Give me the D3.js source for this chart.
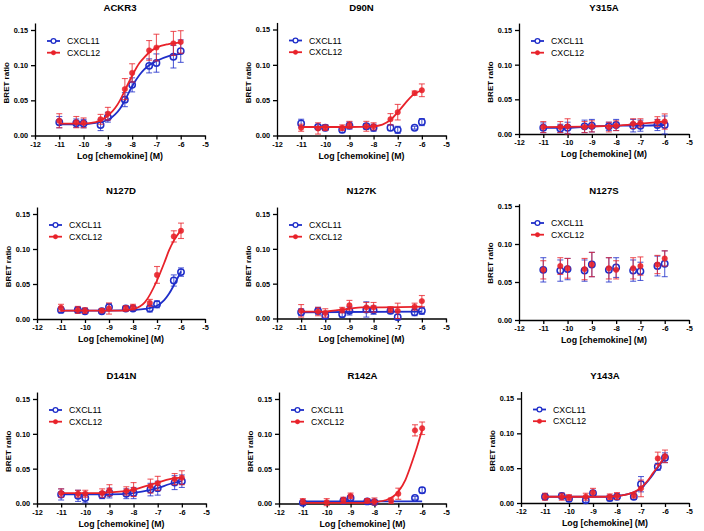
<!DOCTYPE html>
<html>
<head>
<meta charset="utf-8">
<script src="https://cdn.jsdelivr.net/npm/d3@7"></script>
<style>
  body { margin: 0; background: #fff; }
  svg { display: block; font-family: "Liberation Sans", Arial, sans-serif; }
  .tick text { font-size: 7.3px; font-weight: bold; fill: #000; }
  .domain, .tick line { stroke: #000; stroke-width: 1.3px; }
</style>
</head>
<body>
<div id="chart"></div>
<script>
// Concentrations, log10 [chemokine] (M)
const conc = [-11, -10.3, -10, -9.3, -9, -8.3, -8, -7.3, -7, -6.3, -6];
const xTicks = [-12, -11, -10, -9, -8, -7, -6, -5];
const yTicks = [0, 0.05, 0.10, 0.15];
const seriesNames = ['CXCL11', 'CXCL12'];

// ACKR3
const ackr3_c11 = [0.019, 0.0175, 0.017, 0.015, 0.026, 0.051, 0.072, 0.099, 0.103, 0.112, 0.120];
const ackr3_e11 = [0.008, 0.006, 0.006, 0.008, 0.007, 0.010, 0.010, 0.010, 0.013, 0.016, 0.016];
const ackr3_c12 = [0.021, 0.019, 0.018, 0.023, 0.031, 0.066, 0.089, 0.121, 0.125, 0.131, 0.133];
const ackr3_e12 = [0.010, 0.008, 0.007, 0.007, 0.009, 0.015, 0.013, 0.014, 0.019, 0.017, 0.016];
const ackr3_fit11 = [[-11, 0.016], [-10, 0.016], [-9.5, 0.018], [-9, 0.022], [-8.7, 0.030], [-8.5, 0.038], [-8.3, 0.050], [-8, 0.070], [-7.7, 0.086], [-7.5, 0.094], [-7.3, 0.100], [-7, 0.106], [-6.5, 0.113], [-6, 0.116]];
const ackr3_fit12 = [[-11, 0.017], [-10, 0.017], [-9.5, 0.019], [-9, 0.028], [-8.7, 0.039], [-8.5, 0.050], [-8.3, 0.064], [-8, 0.085], [-7.7, 0.103], [-7.5, 0.111], [-7.3, 0.118], [-7, 0.125], [-6.5, 0.130], [-6, 0.132]];

// D90N
const d90n_c11 = [0.017, 0.012, 0.011, 0.008, 0.014, 0.013, 0.011, 0.011, 0.008, 0.011, 0.019];
const d90n_e11 = [0.006, 0.003, 0.004, 0.004, 0.005, 0.004, 0.005, 0.004, 0.005, 0.002, 0.005];
const d90n_c12 = [0.011, 0.010, 0.011, 0.011, 0.015, 0.013, 0.013, 0.023, 0.033, 0.060, 0.064];
const d90n_e12 = [0.005, 0.008, 0.004, 0.004, 0.005, 0.007, 0.005, 0.008, 0.011, 0.003, 0.009];
const d90n_fit12 = [[-11, 0.012], [-9, 0.012], [-8, 0.013], [-7.3, 0.022], [-7, 0.033], [-6.3, 0.059], [-6, 0.064]];

// Y315A
const y315a_c11 = [0.009, 0.008, 0.009, 0.011, 0.012, 0.011, 0.013, 0.012, 0.012, 0.013, 0.013];
const y315a_e11 = [0.007, 0.006, 0.008, 0.009, 0.009, 0.006, 0.008, 0.009, 0.008, 0.008, 0.013];
const y315a_c12 = [0.010, 0.010, 0.011, 0.010, 0.011, 0.010, 0.012, 0.015, 0.016, 0.018, 0.018];
const y315a_e12 = [0.008, 0.008, 0.011, 0.008, 0.008, 0.007, 0.007, 0.007, 0.006, 0.007, 0.011];
const y315a_fit11 = [[-11, 0.009], [-10, 0.009], [-9, 0.011], [-8, 0.012], [-7, 0.012], [-6, 0.013]];
const y315a_fit12 = [[-11, 0.010], [-9, 0.011], [-8, 0.012], [-7, 0.015], [-6, 0.018]];

// N127D
const n127d_c11 = [0.013, 0.013, 0.011, 0.011, 0.017, 0.015, 0.015, 0.015, 0.021, 0.055, 0.067];
const n127d_e11 = [0.004, 0.004, 0.003, 0.003, 0.005, 0.003, 0.003, 0.005, 0.005, 0.008, 0.006];
const n127d_c12 = [0.016, 0.013, 0.012, 0.012, 0.015, 0.015, 0.017, 0.023, 0.063, 0.118, 0.126];
const n127d_e12 = [0.005, 0.005, 0.004, 0.003, 0.008, 0.004, 0.004, 0.005, 0.012, 0.008, 0.011];
const n127d_fit11 = [[-11, 0.012], [-9, 0.012], [-8, 0.013], [-7.5, 0.0145], [-7, 0.019], [-6.7, 0.027], [-6.5, 0.036], [-6.3, 0.048], [-6, 0.068]];
const n127d_fit12 = [[-11, 0.012], [-8.5, 0.012], [-8, 0.014], [-7.5, 0.024], [-7, 0.055], [-6.7, 0.080], [-6.5, 0.098], [-6.3, 0.112], [-6, 0.127]];

// N127K
const n127k_c11 = [0.009, 0.011, 0.004, 0.006, 0.011, 0.013, 0.012, 0.011, 0.002, 0.009, 0.011];
const n127k_e11 = [0.005, 0.005, 0.004, 0.004, 0.006, 0.011, 0.006, 0.004, 0.004, 0.005, 0.005];
const n127k_c12 = [0.011, 0.010, 0.008, 0.012, 0.019, 0.016, 0.016, 0.013, 0.011, 0.017, 0.025];
const n127k_e12 = [0.009, 0.006, 0.006, 0.004, 0.007, 0.007, 0.007, 0.004, 0.011, 0.005, 0.008];
const n127k_fit11 = [[-11, 0.009], [-6, 0.010]];
const n127k_fit12 = [[-11, 0.010], [-10, 0.010], [-9.5, 0.012], [-9, 0.014], [-8.5, 0.016], [-8, 0.016], [-6, 0.017]];

// N127S
const n127s_c11 = [0.066, 0.065, 0.067, 0.065, 0.073, 0.066, 0.069, 0.065, 0.064, 0.071, 0.074];
const n127s_e11 = [0.016, 0.014, 0.014, 0.014, 0.016, 0.016, 0.013, 0.014, 0.012, 0.013, 0.017];
const n127s_c12 = [0.066, 0.071, 0.068, 0.067, 0.073, 0.068, 0.066, 0.068, 0.071, 0.073, 0.081];
const n127s_e12 = [0.012, 0.011, 0.013, 0.014, 0.016, 0.014, 0.012, 0.014, 0.012, 0.012, 0.010];

// D141N
const d141n_c11 = [0.013, 0.011, 0.008, 0.012, 0.015, 0.014, 0.015, 0.020, 0.022, 0.030, 0.032];
const d141n_e11 = [0.008, 0.008, 0.007, 0.005, 0.007, 0.007, 0.008, 0.009, 0.010, 0.010, 0.009];
const d141n_c12 = [0.015, 0.014, 0.014, 0.015, 0.019, 0.018, 0.020, 0.025, 0.029, 0.035, 0.037];
const d141n_e12 = [0.006, 0.005, 0.005, 0.006, 0.008, 0.006, 0.010, 0.010, 0.010, 0.008, 0.010];
const d141n_fit11 = [[-11, 0.013], [-9, 0.013], [-8, 0.015], [-7.5, 0.018], [-7, 0.022], [-6.5, 0.028], [-6, 0.032]];
const d141n_fit12 = [[-11, 0.015], [-9.5, 0.015], [-9, 0.016], [-8, 0.020], [-7.5, 0.025], [-7, 0.030], [-6.5, 0.035], [-6, 0.037]];

// R142A
const r142a_c11 = [0.001, null, null, 0.004, 0.008, 0.003, 0.002, null, null, 0.008, 0.019];
const r142a_e11 = [0.002, null, null, 0.003, 0.003, 0.002, 0.002, null, null, 0.002, 0.004];
const r142a_c12 = [0.003, null, 0.002, 0.005, 0.011, 0.004, 0.003, 0.004, 0.014, 0.105, 0.108];
const r142a_e12 = [0.004, null, 0.005, 0.004, 0.004, 0.003, 0.005, 0.004, 0.008, 0.008, 0.009];
const r142a_fit11 = [[-11, 0.003], [-6, 0.003]];
const r142a_fit12 = [[-11, 0.001], [-8.5, 0.001], [-8, 0.002], [-7.5, 0.005], [-7, 0.017], [-6.7, 0.034], [-6.5, 0.052], [-6.3, 0.072], [-6, 0.106]];

// Y143A
const y143a_c11 = [0.009, 0.010, 0.006, 0.004, 0.014, 0.007, 0.009, 0.009, 0.027, 0.052, 0.065];
const y143a_e11 = [0.004, 0.004, 0.004, 0.003, 0.004, 0.004, 0.004, 0.004, 0.011, 0.005, 0.007];
const y143a_c12 = [0.009, 0.009, 0.008, 0.009, 0.015, 0.009, 0.010, 0.011, 0.021, 0.064, 0.067];
const y143a_e12 = [0.005, 0.005, 0.004, 0.005, 0.006, 0.004, 0.005, 0.004, 0.012, 0.009, 0.009];
const y143a_fit11 = [[-11, 0.009], [-8.5, 0.009], [-8, 0.010], [-7.5, 0.013], [-7, 0.021], [-6.7, 0.032], [-6.5, 0.041], [-6.3, 0.051], [-6, 0.065]];
const y143a_fit12 = [[-11, 0.009], [-8.5, 0.009], [-8, 0.010], [-7.5, 0.013], [-7, 0.022], [-6.7, 0.033], [-6.5, 0.043], [-6.3, 0.052], [-6, 0.067]];

const BLUE = '#1f2ec9';
const RED = '#e8222a';

// panel frames: left/right of x axis, y of 0.00 and 0.15, top of y axis
const panels = [
  { title: 'ACKR3', x0: 35, x1: 205, y0: 135.5, y15: 30, yTop: 0.16, c11: ackr3_c11, e11: ackr3_e11, c12: ackr3_c12, e12: ackr3_e12, f11: ackr3_fit11, f12: ackr3_fit12 },
  { title: 'D90N', x0: 277, x1: 446, y0: 135.5, y15: 29.5, yTop: 0.16, c11: d90n_c11, e11: d90n_e11, c12: d90n_c12, e12: d90n_e12, f11: null, f12: d90n_fit12 },
  { title: 'Y315A', x0: 519, x1: 689, y0: 134, y15: 30, yTop: 0.16, c11: y315a_c11, e11: y315a_e11, c12: y315a_c12, e12: y315a_e12, f11: y315a_fit11, f12: y315a_fit12 },
  { title: 'N127D', x0: 37, x1: 205, y0: 319, y15: 214, yTop: 0.16, c11: n127d_c11, e11: n127d_e11, c12: n127d_c12, e12: n127d_e12, f11: n127d_fit11, f12: n127d_fit12 },
  { title: 'N127K', x0: 277, x1: 446, y0: 318.5, y15: 214, yTop: 0.16, c11: n127k_c11, e11: n127k_e11, c12: n127k_c12, e12: n127k_e12, f11: n127k_fit11, f12: n127k_fit12 },
  { title: 'N127S', x0: 519, x1: 689, y0: 320, y15: 206, yTop: 0.153, legendDy: 6, c11: n127s_c11, e11: n127s_e11, c12: n127s_c12, e12: n127s_e12, f11: null, f12: null },
  { title: 'D141N', x0: 37, x1: 206, y0: 503.5, y15: 399, yTop: 0.16, c11: d141n_c11, e11: d141n_e11, c12: d141n_c12, e12: d141n_e12, f11: d141n_fit11, f12: d141n_fit12 },
  { title: 'R142A', x0: 279, x1: 446, y0: 503.5, y15: 399, yTop: 0.16, c11: r142a_c11, e11: r142a_e11, c12: r142a_c12, e12: r142a_e12, f11: r142a_fit11, f12: r142a_fit12 },
  { title: 'Y143A', x0: 521, x1: 689, y0: 503, y15: 398.5, yTop: 0.16, c11: y143a_c11, e11: y143a_e11, c12: y143a_c12, e12: y143a_e12, f11: y143a_fit11, f12: y143a_fit12 }
];

const titleY = [8, 191, 376];

const svg = d3.select('#chart').append('svg')
  .attr('width', 704)
  .attr('height', 531)
  .style('background', '#fff');

panels.forEach((p, i) => {
  const g = svg.append('g');
  const x = d3.scaleLinear().domain([-12, -5]).range([p.x0, p.x1]);
  const y = d3.scaleLinear().domain([0, 0.15]).range([p.y0, p.y15]);
  const yAxisScale = y.copy().domain([0, p.yTop]).range([p.y0, y(p.yTop)]);

  // title
  g.append('text')
    .attr('x', (p.x0 + p.x1) / 2)
    .attr('y', titleY[Math.floor(i / 3)])
    .attr('dy', '0.35em')
    .attr('text-anchor', 'middle')
    .style('font-size', '9.6px')
    .style('font-weight', 'bold')
    .text(p.title);

  // axes
  g.append('g')
    .attr('transform', `translate(0,${p.y0})`)
    .call(d3.axisBottom(x).tickValues(xTicks).tickSize(4).tickSizeOuter(0).tickPadding(2).tickFormat(d => String(d)));
  g.append('g')
    .attr('transform', `translate(${p.x0},0)`)
    .call(d3.axisLeft(yAxisScale).tickValues(yTicks).tickSize(4).tickSizeOuter(0).tickPadding(3).tickFormat(d3.format('.2f')));

  // axis labels
  g.append('text')
    .attr('x', (p.x0 + p.x1) / 2)
    .attr('y', p.y0 + 20)
    .attr('dy', '0.35em')
    .attr('text-anchor', 'middle')
    .style('font-size', '8.8px')
    .style('font-weight', 'bold')
    .text('Log [chemokine] (M)');
  g.append('text')
    .attr('transform', `translate(${p.x0 - 29},${(p.y0 + p.y15) / 2}) rotate(-90)`)
    .attr('dy', '0.35em')
    .attr('text-anchor', 'middle')
    .style('font-size', '8px')
    .style('font-weight', 'bold')
    .text('BRET ratio');

  const line = d3.line().x(d => x(d[0])).y(d => y(d[1])).curve(d3.curveMonotoneX);

  const series = [
    { name: seriesNames[0], vals: p.c11, errs: p.e11, fit: p.f11, color: BLUE, open: true },
    { name: seriesNames[1], vals: p.c12, errs: p.e12, fit: p.f12, color: RED, open: false }
  ];

  series.forEach(s => {
    const pts = conc.map((c, k) => ({ c: c, v: s.vals[k], e: s.errs[k] })).filter(d => d.v != null);
    const sg = g.append('g');

    if (s.fit) {
      sg.append('path')
        .datum(s.fit)
        .attr('d', line)
        .attr('fill', 'none')
        .attr('stroke', s.color)
        .attr('stroke-width', 1.8);
    }

    // error bars
    const eb = sg.selectAll('.err').data(pts).enter().append('g')
      .attr('stroke', s.color)
      .attr('stroke-width', 1.1)
      .attr('stroke-opacity', 0.75);
    eb.append('line')
      .attr('x1', d => x(d.c)).attr('x2', d => x(d.c))
      .attr('y1', d => y(d.v - d.e)).attr('y2', d => y(d.v + d.e));
    eb.append('line')
      .attr('x1', d => x(d.c) - 3).attr('x2', d => x(d.c) + 3)
      .attr('y1', d => y(d.v + d.e)).attr('y2', d => y(d.v + d.e));
    eb.append('line')
      .attr('x1', d => x(d.c) - 3).attr('x2', d => x(d.c) + 3)
      .attr('y1', d => y(d.v - d.e)).attr('y2', d => y(d.v - d.e));

    sg.selectAll('.pt').data(pts).enter().append('circle')
      .attr('cx', d => x(d.c))
      .attr('cy', d => y(d.v))
      .attr('r', s.open ? 3.2 : 2.7)
      .attr('fill', s.open ? 'none' : s.color)
      .attr('fill-opacity', s.open ? 0 : 0.9)
      .attr('stroke', s.color)
      .attr('stroke-width', s.open ? 1.5 : 0.5);
  });

  // legend
  const lx = p.x0 + 12;
  const ly = p.y15 + 11 + (p.legendDy || 0);
  series.forEach((s, k) => {
    const yy = ly + k * 11.7;
    g.append('line')
      .attr('x1', lx).attr('x2', lx + 13)
      .attr('y1', yy).attr('y2', yy)
      .attr('stroke', s.color)
      .attr('stroke-width', 1.8);
    g.append('circle')
      .attr('cx', lx + 6.5).attr('cy', yy)
      .attr('r', s.open ? 2.4 : 2.2)
      .attr('fill', s.open ? '#fff' : s.color)
      .attr('stroke', s.color)
      .attr('stroke-width', s.open ? 1.3 : 0.5);
    g.append('text')
      .attr('x', p.x0 + 32)
      .attr('y', yy)
      .attr('dy', '0.35em')
      .style('font-size', '8.8px')
      .text(s.name);
  });
});
</script>
</body>
</html>
